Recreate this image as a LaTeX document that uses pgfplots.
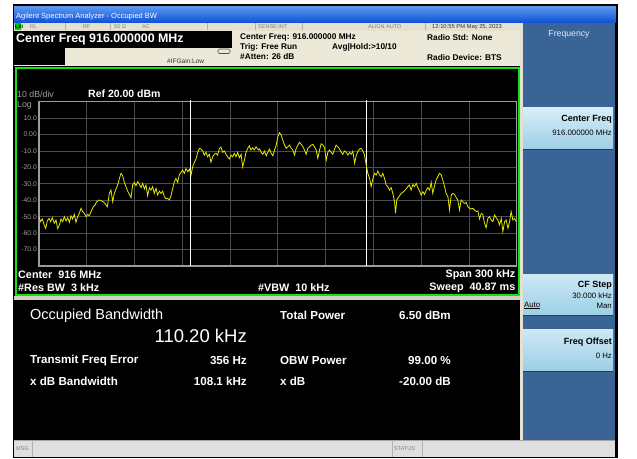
\documentclass[border=0pt]{standalone}
\usepackage{pgfplots}
\pgfplotsset{compat=1.18}
\usepackage{fontspec}
\setmainfont{Liberation Sans}
\definecolor{bgbeige}{HTML}{ECE9D8}
\definecolor{rowbeige}{HTML}{E4E1D2}
\definecolor{panelblue}{HTML}{3A6496}
\definecolor{traceY}{HTML}{E8E800}
\definecolor{gridc}{HTML}{4C4C4C}
\definecolor{framec}{HTML}{9C9C9C}
\definecolor{greenf}{HTML}{18E018}
\definecolor{lbl}{HTML}{A0A0A0}
\definecolor{btnTop}{HTML}{D8EEF8}
\definecolor{btnBot}{HTML}{9CCFE6}
\definecolor{tbTop}{HTML}{5B95EE}
\definecolor{tbBot}{HTML}{0B4FD6}
\newcommand{\fs}[1]{\fontsize{#1}{#1}\selectfont}
\begin{document}
\begin{tikzpicture}[x=1pt,y=1pt]
\begin{scope}[yshift=458pt,yscale=-1]
\fill[white] (0,0) rectangle (637,458);
\fill[black] (12.5,4.5) rectangle (617.5,458);
\fill[rowbeige] (14,23) rectangle (521,31);
\foreach \xx in {65,110,207,255,302,425} \draw[gray!60,line width=0.6pt] (\xx,23.5) -- (\xx,30.5);
\fill[green!80!black] (14.5,23.5) rectangle (20.5,30.5);
\fill[bgbeige] (14,31) rectangle (521,66.5);
\fill[black] (14,31) rectangle (232,48);
\fill[black] (14,48) rectangle (65,65);
\draw[black!70,line width=0.6pt,rounded corners=1.5pt] (218,49) rectangle (230,53.5);
\fill[black] (14,66.5) rectangle (520,296);
\draw[greenf,line width=2pt] (15.5,68) rectangle (519,295);
\fill[bgbeige!75!gray] (14,296.5) rectangle (521,300);
\fill[black] (14,300) rectangle (520,439);
\fill[rowbeige] (520,23) rectangle (523,440);
\fill[panelblue] (523,23) rectangle (615,440);
\fill[gray!25] (14,440) rectangle (615,457);
\draw[gray!70,line width=0.8pt] (14,440.5) -- (615,440.5);
\draw[gray!60,line width=0.6pt] (32,441) -- (32,457);
\draw[gray!60,line width=0.6pt] (392,441) -- (392,457);
\draw[gray!60,line width=0.6pt] (422,441) -- (422,457);
\draw[black!80,line width=1pt] (14,23) -- (616,23);
\end{scope}
% title bar and buttons (unflipped coordinates: y' = 458 - y)
\shade[top color=tbTop, bottom color=tbBot] (14,435) rectangle (616,451);
\shade[top color=btnTop, bottom color=btnBot] (523,350) rectangle (613,309);
\shade[top color=btnTop!80!btnBot, bottom color=btnBot] (523,183.5) rectangle (613,142.5);
\shade[top color=btnTop!80!btnBot, bottom color=btnBot] (523,128) rectangle (613,87);
\draw[panelblue!60!black,line width=0.8pt] (523,309) -- (613,309);
\draw[panelblue!60!black,line width=0.8pt] (523,142.5) -- (613,142.5);
\draw[panelblue!60!black,line width=0.8pt] (523,87) -- (613,87);
\begin{axis}[
  at={(39pt,192pt)}, anchor=south west,
  width=477.7pt, height=164.3pt, scale only axis,
  xmin=-150, xmax=150, ymin=-80, ymax=20,
  axis background/.style={fill=black},
  axis line style={draw=framec, line width=1.1pt},
  xtick={-150,-120,-90,-60,-30,0,30,60,90,120,150},
  ytick={-80,-70,-60,-50,-40,-30,-20,-10,0,10,20},
  xticklabels={},
  yticklabels={{},{-70.0},{-60.0},{-50.0},{-40.0},{-30.0},{-20.0},{-10.0},{0.00},{10.0},{}},
  yticklabel style={font=\fs{6.8}, text=lbl, anchor=east, inner sep=0pt, xshift=-2pt},
  major tick length=0pt,
  grid=major, grid style={draw=gridc, line width=0.8pt},
  clip=false,
]
\addplot[white, line width=0.9pt] coordinates {(-55.2,-80) (-55.2,21)};
\addplot[white, line width=0.9pt] coordinates {(55.4,-80) (55.4,21)};
\addplot[traceY, line width=0.8pt] table {
f db
-150.0 -50.0
-148.95 -53.0
-147.9 -51.4
-146.9 -54.6
-145.8 -57.1
-144.8 -52.6
-143.7 -51.0
-142.7 -53.0
-141.6 -50.6
-140.4 -54.0
-139.3 -52.0
-138.3 -57.1
-137.2 -55.0
-136.2 -51.4
-135.1 -53.0
-134.1 -50.0
-133.0 -52.6
-132.0 -50.6
-130.9 -53.4
-129.9 -49.4
-128.9 -51.4
-127.8 -48.6
-126.8 -53.4
-125.7 -50.0
-124.7 -48.0
-123.6 -44.9
-122.6 -46.9
-121.5 -48.0
-120.5 -50.0
-119.4 -48.6
-118.4 -49.4
-117.3 -46.9
-115.9 -43.9
-114.8 -42.9
-113.8 -40.9
-112.3 -39.8
-110.6 -40.4
-109.2 -41.3
-107.9 -42.9
-107.1 -43.9
-105.8 -35.8
-104.8 -33.8
-103.7 -40.9
-102.7 -35.8
-101.6 -33.1
-100.6 -30.7
-99.5 -26.7
-98.5 -23.6
-97.5 -25.0
-96.4 -29.1
-95.4 -31.7
-94.3 -34.4
-93.3 -36.4
-92.2 -38.4
-91.2 -30.7
-90.1 -29.1
-89.1 -31.1
-88.0 -28.7
-87.0 -30.3
-85.9 -32.3
-84.9 -29.7
-83.8 -33.1
-82.8 -30.7
-81.8 -37.2
-80.7 -32.3
-79.7 -33.8
-78.6 -31.7
-77.6 -35.8
-76.5 -32.7
-75.5 -36.8
-74.4 -34.4
-73.4 -35.8
-72.3 -34.4
-71.3 -37.8
-70.2 -39.2
-69.2 -38.8
-68.1 -39.8
-67.1 -37.2
-66.1 -33.1
-65.0 -28.7
-64.0 -26.7
-62.9 -29.1
-61.9 -24.6
-60.8 -23.0
-59.8 -21.6
-58.7 -23.6
-57.7 -20.6
-56.6 -22.6
-55.6 -21.0
-54.5 -24.6
-53.5 -19.6
-52.4 -16.9
-51.4 -14.9
-50.3 -10.8
-49.3 -8.4
-48.2 -8.8
-47.2 -10.0
-46.2 -12.5
-45.1 -10.8
-44.1 -13.5
-43.0 -12.0
-42.0 -16.9
-40.9 -13.5
-39.9 -12.0
-38.8 -11.4
-37.8 -12.5
-36.7 -8.4
-35.7 -7.6
-34.6 -10.8
-33.6 -10.0
-32.6 -12.0
-31.5 -13.5
-30.5 -14.9
-29.4 -12.5
-28.4 -13.5
-27.3 -11.4
-26.3 -13.5
-25.2 -10.8
-24.2 -14.1
-23.1 -12.0
-22.1 -19.6
-21.0 -15.5
-20.0 -10.8
-18.9 -8.4
-17.9 -6.8
-16.9 -9.4
-15.8 -8.0
-14.8 -9.4
-13.7 -7.4
-12.2 -9.4
-11.5 -8.8
-10.5 -10.8
-9.4 -12.0
-8.4 -10.0
-7.3 -12.9
-6.3 -10.8
-5.2 -8.8
-4.2 -11.4
-3.1 -12.9
-2.1 -9.4
-1.0 -6.4
0.0 -1.3
1.0 1.1
2.1 -0.3
3.1 -3.3
4.2 -6.4
5.2 -8.4
6.3 -7.4
7.3 -6.4
8.4 -8.4
9.4 -9.4
10.5 -12.5
11.5 -8.4
12.6 -6.4
13.6 -4.7
14.7 -6.0
15.7 -7.4
16.7 -9.4
17.8 -12.0
18.8 -8.4
19.9 -7.4
20.9 -6.4
22.0 -6.0
23.0 -7.4
24.1 -9.4
25.1 -14.5
26.2 -9.4
27.2 -5.6
28.3 -6.4
29.3 -8.0
30.4 -15.5
31.4 -10.8
32.4 -9.4
33.5 -10.8
34.5 -12.0
35.6 -8.8
36.6 -6.4
37.7 -7.4
38.7 -8.8
39.8 -10.8
40.8 -12.0
41.9 -10.0
42.9 -10.8
44.0 -12.5
45.0 -10.8
46.1 -12.0
47.1 -10.0
48.2 -17.5
49.2 -12.9
50.2 -10.4
51.3 -8.8
52.3 -8.4
53.4 -10.0
54.4 -12.5
55.5 -18.5
56.5 -23.6
57.6 -26.7
58.6 -31.7
59.7 -26.7
60.7 -23.6
61.8 -24.6
62.8 -22.2
63.9 -24.6
64.9 -25.6
65.9 -23.6
67.0 -26.7
68.0 -30.7
69.1 -31.7
70.1 -33.8
71.2 -32.3
72.2 -35.8
73.3 -40.9
73.9 -48.0
74.7 -39.8
76.0 -37.8
77.5 -35.8
78.9 -34.8
80.6 -33.1
81.6 -31.7
82.7 -30.7
83.7 -33.8
84.8 -30.3
85.8 -31.7
86.9 -29.7
87.9 -32.3
89.0 -34.4
90.0 -36.8
91.1 -34.8
92.1 -36.4
93.2 -33.8
94.2 -32.3
95.3 -33.8
96.3 -29.1
97.3 -35.8
98.4 -31.1
99.4 -27.7
100.5 -25.6
101.5 -23.6
102.6 -24.6
103.6 -27.7
104.7 -31.7
105.7 -35.8
106.8 -37.8
107.8 -45.9
108.9 -36.8
109.9 -35.8
111.0 -36.4
112.0 -38.4
113.0 -39.8
114.1 -45.9
115.1 -39.8
116.2 -40.9
117.2 -41.9
118.3 -41.3
119.3 -43.9
120.4 -44.9
121.4 -45.3
122.5 -44.9
123.5 -45.9
124.6 -46.9
125.6 -46.5
126.7 -51.4
127.7 -48.0
128.7 -48.6
129.8 -54.0
130.8 -56.7
131.9 -51.0
132.9 -50.0
134.0 -52.0
135.0 -53.0
136.1 -49.0
137.1 -50.6
138.2 -52.0
139.2 -55.0
140.3 -51.0
141.3 -59.1
142.4 -53.0
143.4 -52.0
144.5 -57.1
145.5 -53.0
146.5 -46.9
147.6 -52.0
148.6 -51.0
149.7 -53.0
};
\end{axis}
\begin{scope}[yshift=458pt,yscale=-1]
% title and status row
\node[anchor=west,inner sep=0pt,text=white] at (16,16.5) {\fs{7.5}Agilent Spectrum Analyzer - Occupied BW};
\node[anchor=west,inner sep=0pt,text=black] at (15,27) {\fs{5}\bfseries LXI};
\node[anchor=west,inner sep=0pt,text=gray] at (30,27) {\fs{5.5}RL};
\node[anchor=west,inner sep=0pt,text=gray] at (83,27) {\fs{5.5}RF};
\node[anchor=west,inner sep=0pt,text=gray] at (114,27) {\fs{5.5}50 Ω};
\node[anchor=west,inner sep=0pt,text=gray] at (142,27) {\fs{5.5}AC};
\node[anchor=west,inner sep=0pt,text=gray] at (258,27) {\fs{5.5}SENSE:INT};
\node[anchor=west,inner sep=0pt,text=gray] at (368,27) {\fs{5.5}ALIGN AUTO};
\node[anchor=west,inner sep=0pt,text=black!80] at (432,27) {\fs{5.8}12:10:55 PM May 25, 2023};
% header
\node[anchor=west,inner sep=0pt,text=white] at (16,39.5) {\fs{12.4}\bfseries Center Freq 916.000000 MHz};
\node[anchor=west,inner sep=0pt,text=black!80] at (167,61.5) {\fs{6.5}\#IFGain:Low};
\node[anchor=west,inner sep=0pt] at (240,37.5) {\fs{8.3}\bfseries Center Freq: 916.000000 MHz};
\node[anchor=west,inner sep=0pt] at (240,47) {\fs{8.3}\bfseries Trig: Free Run};
\node[anchor=west,inner sep=0pt] at (332,47) {\fs{8.3}\bfseries Avg|Hold:>10/10};
\node[anchor=west,inner sep=0pt] at (240,57) {\fs{8.3}\bfseries \#Atten: 26 dB};
\node[anchor=west,inner sep=0pt] at (427,37.5) {\fs{8.3}\bfseries Radio Std: None};
\node[anchor=west,inner sep=0pt] at (427,57.5) {\fs{8.3}\bfseries Radio Device: BTS};
% plot labels
\node[anchor=west,inner sep=0pt,text=lbl] at (17,94.5) {\fs{8.8}10 dB/div};
\node[anchor=west,inner sep=0pt,text=lbl] at (17,105) {\fs{8.8}Log};
\node[anchor=west,inner sep=0pt,text=white] at (88,94) {\fs{10.5}\bfseries Ref 20.00 dBm};
\node[anchor=west,inner sep=0pt,text=white] at (18,274.5) {\fs{10.8}\bfseries Center\ \ 916 MHz};
\node[anchor=west,inner sep=0pt,text=white] at (18,287.5) {\fs{10.8}\bfseries \#Res BW\ \ 3 kHz};
\node[anchor=west,inner sep=0pt,text=white] at (258,287.5) {\fs{10.8}\bfseries \#VBW\ \ 10 kHz};
\node[anchor=east,inner sep=0pt,text=white] at (515.5,274.5) {\fs{10.8}\bfseries Span 300 kHz};
\node[anchor=east,inner sep=0pt,text=white] at (515.5,287.5) {\fs{10.8}\bfseries Sweep\ \ 40.87 ms};
% results
\node[anchor=west,inner sep=0pt,text=white] at (30,315.5) {\fs{14.5}Occupied Bandwidth};
\node[anchor=east,inner sep=0pt,text=white] at (247,335.5) {\fs{18.5}110.20 kHz};
\node[anchor=west,inner sep=0pt,text=white] at (280,315) {\fs{11.6}\bfseries Total Power};
\node[anchor=east,inner sep=0pt,text=white] at (451,315) {\fs{11.6}\bfseries 6.50 dBm};
\node[anchor=west,inner sep=0pt,text=white] at (30,361) {\fs{11.6}\bfseries Transmit Freq Error};
\node[anchor=east,inner sep=0pt,text=white] at (247,361) {\fs{11.6}\bfseries 356 Hz};
\node[anchor=west,inner sep=0pt,text=white] at (280,361) {\fs{11.6}\bfseries OBW Power};
\node[anchor=east,inner sep=0pt,text=white] at (451,361) {\fs{11.6}\bfseries 99.00 \%};
\node[anchor=west,inner sep=0pt,text=white] at (30,381) {\fs{11.6}\bfseries x dB Bandwidth};
\node[anchor=east,inner sep=0pt,text=white] at (247,381) {\fs{11.6}\bfseries 108.1 kHz};
\node[anchor=west,inner sep=0pt,text=white] at (280,381) {\fs{11.6}\bfseries x dB};
\node[anchor=east,inner sep=0pt,text=white] at (451,381) {\fs{11.6}\bfseries -20.00 dB};
% status bar
\node[anchor=west,inner sep=0pt,text=gray] at (16,448.5) {\fs{5.5}MSG};
\node[anchor=west,inner sep=0pt,text=gray] at (394,448.5) {\fs{5.5}STATUS};
% right panel
\node[inner sep=0pt,text=blue!10!white] at (569,34.5) {\fs{8.7}Frequency};
\node[anchor=east,inner sep=0pt] at (612,119.5) {\fs{9}\bfseries Center Freq};
\node[anchor=east,inner sep=0pt] at (612,132.5) {\fs{7.8}916.000000 MHz};
\node[anchor=east,inner sep=0pt] at (612,285) {\fs{9}\bfseries CF Step};
\node[anchor=east,inner sep=0pt] at (612,295.5) {\fs{7.8}30.000 kHz};
\node[anchor=west,inner sep=0pt] at (524,305.5) {\fs{7.8}\underline{Auto}};
\node[anchor=east,inner sep=0pt] at (612,305.5) {\fs{7.8}Man};
\node[anchor=east,inner sep=0pt] at (612,342) {\fs{9}\bfseries Freq Offset};
\node[anchor=east,inner sep=0pt] at (612,356) {\fs{7.8}0 Hz};
\end{scope}
\end{tikzpicture}
\end{document}
